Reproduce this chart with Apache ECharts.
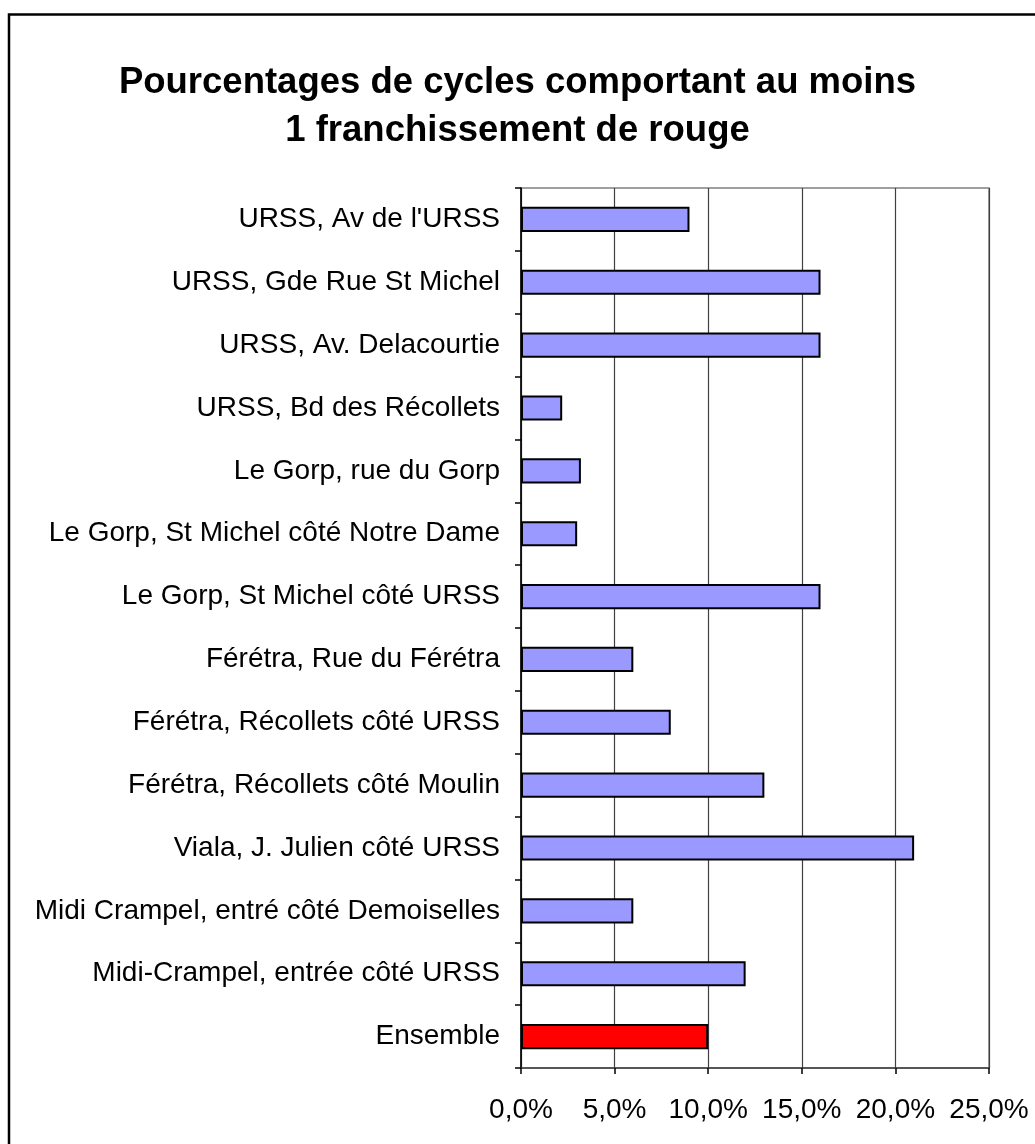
<!DOCTYPE html>
<html>
<head>
<meta charset="utf-8">
<script src="https://cdn.jsdelivr.net/npm/echarts@6/dist/echarts.min.js"></script>
<style>
  html, body { margin: 0; padding: 0; background: #fff; }
  #chart { width: 1035px; height: 1144px; }
</style>
</head>
<body>
<div id="chart"></div>
<script>
const titleLines = ["Pourcentages de cycles comportant au moins", "1 franchissement de rouge"];
const categories = [
  "URSS, Av de l'URSS",
  "URSS, Gde Rue St Michel",
  "URSS, Av. Delacourtie",
  "URSS, Bd des Récollets",
  "Le Gorp, rue du Gorp",
  "Le Gorp, St Michel côté Notre Dame",
  "Le Gorp, St Michel côté URSS",
  "Férétra, Rue du Férétra",
  "Férétra, Récollets côté URSS",
  "Férétra, Récollets côté Moulin",
  "Viala, J. Julien côté URSS",
  "Midi Crampel, entré côté Demoiselles",
  "Midi-Crampel, entrée côté URSS",
  "Ensemble"
];
const values = [9.0, 16.0, 16.0, 2.2, 3.2, 3.0, 16.0, 6.0, 8.0, 13.0, 21.0, 6.0, 12.0, 10.0];
const highlighted = ["Ensemble"];
const xTicks = [0, 5, 10, 15, 20, 25];

const chart = echarts.init(document.getElementById('chart'), null, { renderer: 'canvas' });
const fmt = v => v.toFixed(1).replace('.', ',') + '%';

chart.setOption({
  animation: false,
  backgroundColor: '#ffffff',
  title: {
    text: titleLines.join('\n'),
    left: 'center',
    top: 54,
    textStyle: {
      fontFamily: 'Liberation Sans, Arial, sans-serif',
      fontWeight: 'bold',
      fontSize: 36.5,
      lineHeight: 48,
      color: '#000'
    }
  },
  graphic: [{
    type: 'rect',
    shape: { x: 9, y: 14.5, width: 1100, height: 1200 },
    style: { fill: 'none', stroke: '#000', lineWidth: 2.5 },
    silent: true
  }],
  grid: {
    left: 521, right: 46, top: 188, bottom: 76,
    show: true, borderColor: '#808080', borderWidth: 1.5, backgroundColor: 'transparent'
  },
  xAxis: {
    type: 'value',
    min: xTicks[0], max: xTicks[xTicks.length - 1], interval: 5,
    axisLine: { show: true, lineStyle: { color: '#404040', width: 1.5 } },
    axisTick: { show: true, length: 6, lineStyle: { color: '#000', width: 1.5 } },
    splitLine: { show: true, lineStyle: { color: '#404040', width: 1.2 } },
    axisLabel: {
      formatter: fmt, margin: 28, color: '#000',
      fontFamily: 'Liberation Sans, Arial, sans-serif', fontSize: 28
    }
  },
  yAxis: {
    type: 'category',
    inverse: true,
    data: categories,
    axisLine: { show: true, lineStyle: { color: '#000', width: 1.5 } },
    axisTick: { show: true, length: 6, lineStyle: { color: '#000', width: 1.5 } },
    splitLine: { show: false },
    axisLabel: {
      margin: 21, color: '#000',
      fontFamily: 'Liberation Sans, Arial, sans-serif', fontSize: 28
    }
  },
  series: [{
    type: 'bar',
    data: values.map((v, i) => ({
      value: v,
      itemStyle: { color: highlighted.includes(categories[i]) ? '#ff0000' : '#9999ff' }
    })),
    barWidth: '40%',
    itemStyle: { borderColor: '#000', borderWidth: 2 },
    emphasis: { disabled: true }
  }]
});
</script>
</body>
</html>
